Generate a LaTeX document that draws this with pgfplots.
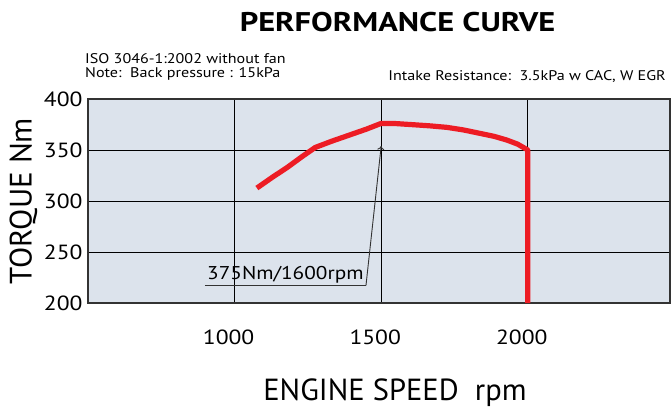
\documentclass[border=0pt]{standalone}
\usepackage{fontspec}
\setmainfont[FakeStretch=1.15]{PT Sans}
\newfontfamily\plainfont{PT Sans}
\newfontfamily\titlefont[FakeStretch=1.2]{PT Sans}
\usepackage{pgfplots}
\pgfplotsset{compat=1.18}
\usetikzlibrary{arrows.meta}
\definecolor{bgblue}{HTML}{DCE3EC}
\definecolor{curvered}{HTML}{ED1C24}
\definecolor{frame}{HTML}{333333}
\begin{document}
\begin{tikzpicture}
\path[use as bounding box] (0,0) rectangle (672bp,-411bp);
\begin{axis}[
  at={(88bp,-303bp)}, anchor=south west,
  scale only axis, width=582bp, height=204bp,
  xmin=500, xmax=2485, ymin=200, ymax=400,
  xtick={1000,1500,2000}, ytick={200,250,300,350,400},
  grid=major, major grid style={black, line width=0.9bp},
  major tick length=0pt,
  axis line style={frame, line width=2.2bp},
  axis background/.style={fill=bgblue},
  /pgf/number format/assume math mode=true,
  /pgf/number format/1000 sep={},
  xticklabel style={font=\fontsize{20.5bp}{22bp}\selectfont, xshift=-6bp, yshift=-23bp},
  yticklabel style={font=\fontsize{20.5bp}{22bp}\selectfont, xshift=-2bp},
]
\addplot[curvered, line width=5.2bp, line join=round] coordinates {
 (1076,312.7) (1130,323.5) (1180,333) (1230,343.5) (1275,352.5) (1330,358.5) (1390,364.5) (1450,370.5) (1500,376.1)
 (1550,375.9) (1609,374.8) (1665,373.7) (1724,372.2) (1780,369.7) (1837,366.3) (1885,363.4) (1928,359.8) (1965,355.8) (2000,350) (2000,200)
};
\draw[frame, line width=0.9bp] (axis cs:899,217) -- (axis cs:1448,217);
\draw[frame, line width=0.9bp, -{To[length=4bp,width=7bp]}] (axis cs:1448,217) -- (axis cs:1500,354);
\node[anchor=base west, inner sep=0pt, font=\fontsize{18.5bp}{22bp}\selectfont] at (axis cs:906,222.8) {375Nm/1600rpm};
\end{axis}
\node[anchor=base, inner sep=0pt, font=\fontsize{27bp}{30bp}\titlefont\bfseries] at (397.5bp,-31.7bp) {PERFORMANCE CURVE};
\node[anchor=base west, inner sep=0pt, font=\fontsize{14bp}{16bp}\selectfont] at (85bp,-63.3bp) {ISO 3046-1:2002 without fan};
\node[anchor=base west, inner sep=0pt, font=\fontsize{14bp}{16bp}\selectfont] at (85bp,-77.3bp) {Note:\ \ Back pressure : 15kPa};
\node[anchor=base east, inner sep=0pt, font=\fontsize{14bp}{16bp}\selectfont] at (666bp,-80bp) {Intake Resistance:\ \ 3.5kPa w CAC, W EGR};
\node[anchor=base, rotate=90, inner sep=0pt, font=\fontsize{31bp}{34bp}\plainfont] at (31.7bp,-201bp) {TORQUE Nm};
\node[anchor=base, inner sep=0pt, font=\fontsize{30.5bp}{32bp}\plainfont] at (395bp,-400bp) {ENGINE SPEED\ \ rpm};
\end{tikzpicture}
\end{document}
